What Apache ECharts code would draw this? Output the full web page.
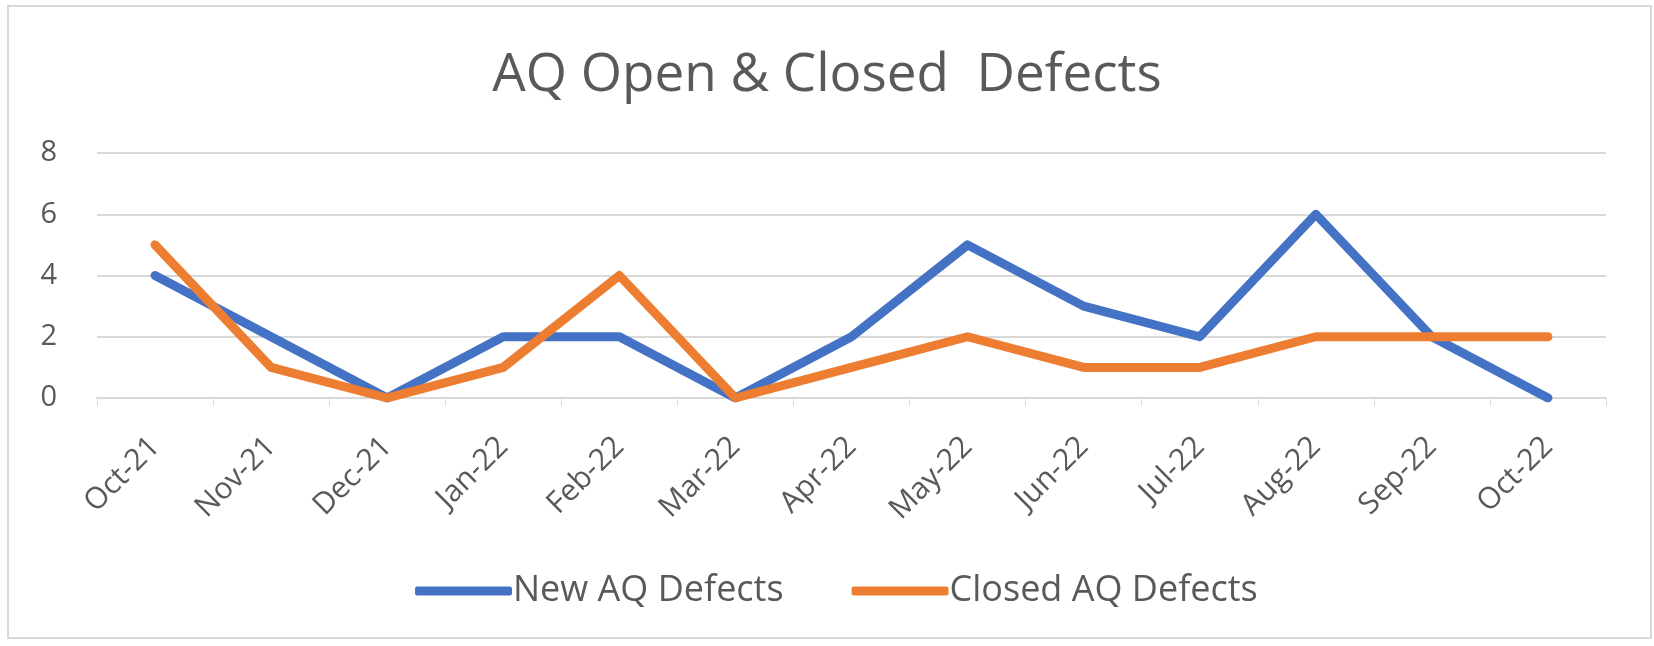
<!DOCTYPE html>
<html>
<head>
<meta charset="utf-8">
<script src="https://cdn.jsdelivr.net/npm/echarts@6/dist/echarts.min.js"></script>
<style>
  html, body { margin: 0; padding: 0; background: #fff; }
  #main { width: 1654px; height: 646px; }
</style>
</head>
<body>
<div id="main"></div>
<script>
var months = ['Oct-21', 'Nov-21', 'Dec-21', 'Jan-22', 'Feb-22', 'Mar-22', 'Apr-22',
              'May-22', 'Jun-22', 'Jul-22', 'Aug-22', 'Sep-22', 'Oct-22'];
var newDefects = [4, 2, 0, 2, 2, 0, 2, 5, 3, 2, 6, 2, 0];
var closedDefects = [5, 1, 0, 1, 4, 0, 1, 2, 1, 1, 2, 2, 2];
var yTicks = { min: 0, max: 8, interval: 2 };

var font = '"Open Sans", sans-serif';
var textColor = '#595959';

var chart = echarts.init(document.getElementById('main'));

chart.setOption({
    animation: false,
    backgroundColor: '#fff',
    title: {
        text: 'AQ Open & Closed  Defects',
        left: 'center',
        top: 44,
        textStyle: {
            fontFamily: font,
            fontWeight: 'normal',
            fontSize: 53,
            color: textColor
        }
    },
    graphic: [{
        type: 'rect',
        shape: { x: 8, y: 6, width: 1643, height: 632 },
        style: { fill: 'none', stroke: '#d9d9d9', lineWidth: 2 },
        silent: true
    }],
    legend: {
        data: ['New AQ Defects', 'Closed AQ Defects'],
        top: 568,
        left: 410,
        itemWidth: 97,
        itemHeight: 9,
        itemGap: 68,
        icon: 'roundRect',
        textStyle: {
            fontFamily: font,
            fontSize: 36,
            color: textColor,
            padding: [0, 0, 0, -4]
        }
    },
    grid: {
        left: 97,
        right: 48,
        top: 153,
        bottom: 248
    },
    xAxis: {
        type: 'category',
        data: months,
        boundaryGap: true,
        axisLine: { lineStyle: { color: '#d9d9d9', width: 2 } },
        axisTick: { show: true, length: 8, lineStyle: { color: '#d9d9d9', width: 1 } },
        axisLabel: {
            rotate: 45,
            margin: 44,
            fontFamily: font,
            fontSize: 30,
            color: textColor
        }
    },
    yAxis: {
        type: 'value',
        min: yTicks.min,
        max: yTicks.max,
        interval: yTicks.interval,
        axisLine: { show: false },
        axisTick: { show: false },
        axisLabel: {
            margin: 40,
            fontFamily: font,
            fontSize: 29,
            color: textColor
        },
        splitLine: { lineStyle: { color: '#d9d9d9', width: 2 } }
    },
    series: [{
        name: 'New AQ Defects',
        type: 'line',
        data: newDefects,
        showSymbol: false,
        symbol: 'none',
        color: '#4472C4',
        lineStyle: { width: 9, color: '#4472C4', cap: 'round', join: 'round' }
    }, {
        name: 'Closed AQ Defects',
        type: 'line',
        data: closedDefects,
        showSymbol: false,
        symbol: 'none',
        color: '#ED7D31',
        lineStyle: { width: 9, color: '#ED7D31', cap: 'round', join: 'round' }
    }]
});
</script>
</body>
</html>
